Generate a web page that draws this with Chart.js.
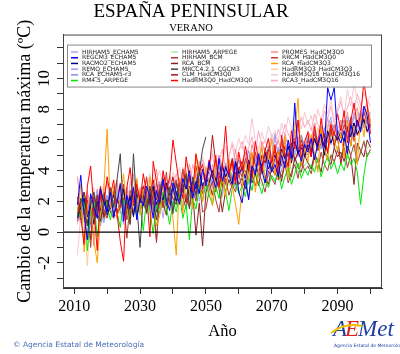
<!DOCTYPE html>
<html>
<head>
<meta charset="utf-8">
<script src="https://cdn.jsdelivr.net/npm/chart.js@4/dist/chart.umd.min.js"></script>
<style>
  html, body { margin: 0; padding: 0; background: #fff; }
</style>
</head>
<body>
<canvas id="myChart" width="400" height="354"></canvas>
<script>
// Years on the x axis
var years = [
  2011, 2012, 2013, 2014, 2015, 2016, 2017, 2018, 2019, 2020,
  2021, 2022, 2023, 2024, 2025, 2026, 2027, 2028, 2029, 2030,
  2031, 2032, 2033, 2034, 2035, 2036, 2037, 2038, 2039, 2040,
  2041, 2042, 2043, 2044, 2045, 2046, 2047, 2048, 2049, 2050,
  2051, 2052, 2053, 2054, 2055, 2056, 2057, 2058, 2059, 2060,
  2061, 2062, 2063, 2064, 2065, 2066, 2067, 2068, 2069, 2070,
  2071, 2072, 2073, 2074, 2075, 2076, 2077, 2078, 2079, 2080,
  2081, 2082, 2083, 2084, 2085, 2086, 2087, 2088, 2089, 2090,
  2091, 2092, 2093, 2094, 2095, 2096, 2097, 2098, 2099, 2100
];

// Tick positions and labels
var xTickValues = [2010, 2020, 2030, 2040, 2050, 2060, 2070, 2080, 2090, 2100];
var xTickLabels = [2010, 2030, 2050, 2070, 2090];
var yTickValues = [-3, -2, -1, 0, 1, 2, 3, 4, 5, 6, 7, 8, 9, 10, 11, 12];
var yTickLabels = [-2, 0, 2, 4, 6, 8, 10];

// Model names (legend order, column by column), colours and drawing layer (1 = on top)
var seriesNames = [
  'HIRHAM5_ECHAM5', 'REGCM3_ECHAM5', 'RACMO2_ECHAM5', 'REMO_ECHAM5', 'RCA_ECHAM5-r3', 'RM4.5_ARPEGE',
  'HIRHAM5_ARPEGE', 'HIRHAM_BCM', 'RCA_BCM', 'MRCC4.2.1_CGCM3', 'CLM_HadCM3Q0', 'HadRM3Q0_HadCM3Q0',
  'PROMES_HadCM3Q0', 'RRCM_HadCM3Q0', 'RCA_HadCM3Q3', 'HadRM3Q3_HadCM3Q3', 'HadRM3Q16_HadCM3Q16', 'RCA3_HadCM3Q16'
];
var seriesColors = [
  '#a8a8f2', '#0000ff', '#000080', '#9a9aee', '#8a8ae4', '#00e600',
  '#a6f0a6', '#b03a3a', '#8a2020', '#444444', '#b01515', '#ff0000',
  '#ff8a8a', '#cc3535', '#ffa000', '#ffcc94', '#f5c8ce', '#ffa4c4'
];
var seriesLayers = [3, 1, 2, 3, 3, 2, 3, 2, 2, 1, 2, 1, 3, 2, 1, 3, 3, 3];

// Change of maximum temperature (ºC), one value per year 2011-2100
var hirham5Echam5 = [
  1.2, 0.6, 2.1, 1.5, 0.3, 1.9, 2.4, 0.8, 1.3, 2.0,
  1.6, 0.9, 2.7, 1.4, 0.5, 2.2, 1.8, 3.0, 1.1, 2.3,
  2.0, 1.2, 2.8, 1.7, 3.1, 2.4, 0.9, 2.6, 3.3, 1.8,
  2.5, 3.0, 1.6, 3.4, 2.2, 2.9, 3.8, 2.0, 3.2, 2.7,
  3.6, 2.8, 4.1, 3.0, 2.4, 3.9, 4.4, 3.3, 2.9, 4.2,
  3.5, 4.6, 3.1, 4.0, 5.2, 3.7, 4.3, 5.0, 3.6, 4.8,
  4.4, 5.5, 3.9, 4.9, 5.8, 4.6, 5.1, 6.2, 4.5, 5.4,
  5.0, 6.0, 4.8, 5.7, 6.5, 5.2, 6.8, 7.5, 5.9, 6.4,
  6.9, 5.6, 7.2, 6.3, 7.8, 6.6, 7.0, 8.1, 6.8, 7.4
];
var regcm3Echam5 = [
  1.8, 3.7, 1.1, -0.5, 2.5, 1.6, 0.9, 2.8, 2.0, 1.3,
  2.6, 1.0, 1.9, 3.1, 0.7, 2.4, 1.5, 2.9, 0.8, 2.2,
  1.7, 3.0, 2.3, 0.9, 2.7, 1.9, 3.4, 2.1, 1.4, 3.2,
  2.6, 1.8, 3.5, 2.8, 4.0, 2.2, 3.3, 2.5, 4.1, 3.0,
  4.6, 3.6, 2.9, 4.8, 3.3, 4.2, 3.7, 3.1, 4.5, 2.6,
  1.9, 3.4, 2.1, 4.3, 3.8, 5.1, 4.0, 3.2, 4.7, 3.9,
  4.4, 3.6, 5.0, 4.2, 6.0, 4.8, 8.4, 5.3, 4.6, 5.7,
  5.2, 6.1, 4.7, 5.8, 6.4, 5.5, 9.4, 8.6, 9.4, 6.3,
  5.8, 6.6, 5.1, 7.0, 6.2, 7.3, 6.5, 8.2, 7.6, 5.8
];
var racmo2Echam5 = [
  0.9, 1.6, 2.2, 1.0, 1.7, 0.5, 2.0, 1.4, 2.6, 1.1,
  1.8, 2.4, 1.2, 2.0, 2.8, 1.5, 2.3, 1.0, 2.5, 1.9,
  2.7, 1.6, 2.2, 3.0, 1.8, 2.5, 2.1, 3.2, 2.4, 2.9,
  2.0, 3.1, 2.6, 3.6, 2.4, 3.3, 2.8, 3.9, 3.0, 3.5,
  3.2, 4.0, 3.4, 2.9, 4.3, 3.6, 4.1, 3.3, 4.6, 3.8,
  4.2, 3.5, 4.7, 4.0, 3.7, 4.9, 4.3, 5.2, 4.1, 4.6,
  5.0, 4.4, 5.4, 4.8, 5.6, 4.5, 5.9, 5.1, 5.5, 4.9,
  5.7, 5.2, 6.1, 5.5, 6.3, 5.0, 6.6, 5.8, 6.4, 6.0,
  6.5, 5.9, 6.9, 6.2, 7.1, 6.4, 6.8, 7.3, 6.6, 7.0
];
var remoEcham5 = [
  1.4, 0.7, 1.9, 2.3, 0.8, 1.5, 2.7, 1.2, 0.6, 1.8,
  2.2, 1.3, 0.9, 2.5, 1.7, 2.9, 1.1, 2.0, 2.6, 1.4,
  1.9, 2.8, 1.5, 2.3, 3.2, 2.0, 2.6, 1.7, 3.0, 2.4,
  3.3, 2.1, 2.8, 3.7, 2.5, 3.1, 2.2, 3.5, 2.9, 3.8,
  2.7, 3.4, 4.2, 3.0, 3.7, 4.5, 3.2, 3.9, 4.8, 3.6,
  4.1, 3.3, 4.4, 5.0, 3.8, 4.6, 5.5, 4.2, 5.1, 4.7,
  6.4, 4.8, 5.3, 6.1, 5.0, 5.8, 6.3, 5.4, 6.0, 5.6,
  6.2, 5.5, 6.7, 5.9, 6.9, 6.3, 5.8, 7.2, 6.5, 6.8,
  7.0, 6.4, 7.5, 6.9, 7.7, 6.8, 7.3, 8.0, 7.2, 7.6
];
var rcaEcham5r3 = [
  1.0, 2.0, 1.3, 0.5, 1.7, 2.2, 1.0, 0.4, 1.6, 2.4,
  1.5, 2.1, 1.2, 1.8, 2.6, 0.9, 2.0, 2.7, 1.6, 2.3,
  2.9, 1.8, 2.4, 1.4, 2.7, 3.3, 2.1, 2.5, 1.9, 3.0,
  2.3, 3.4, 2.7, 2.0, 3.6, 2.8, 3.2, 4.0, 2.6, 3.3,
  3.9, 3.1, 3.5, 4.3, 2.9, 3.8, 4.4, 3.4, 4.1, 4.7,
  3.9, 4.5, 5.3, 4.1, 4.8, 3.6, 5.0, 4.4, 5.6, 4.9,
  4.6, 5.5, 5.0, 6.0, 4.7, 5.7, 5.2, 4.9, 6.3, 5.5,
  6.1, 5.3, 6.6, 5.9, 5.4, 6.8, 6.2, 5.7, 7.0, 6.3,
  6.7, 7.3, 6.1, 7.5, 6.6, 7.1, 7.9, 6.8, 7.4, 7.8
];
var rm45Arpege = [
  1.5, 0.9, 2.3, -1.2, 1.4, 2.0, -0.3, 1.2, 2.5, 1.7,
  0.8, 1.9, 1.3, 0.3, 2.1, 1.5, 0.9, 2.4, 1.1, 1.8,
  0.1, 2.2, 1.4, -0.1, 1.9, 1.2, 2.6, 1.6, 0.5, 2.0,
  1.3, 2.5, 0.9, 1.8, -0.5, 2.2, 1.5, 2.9, 2.0, 3.2,
  2.4, 1.8, 3.0, 2.2, 3.5, 2.6, 1.4, 2.8, 3.3, 2.5,
  3.0, 2.3, 3.6, 2.7, 3.9, 3.2, 2.5, 3.4, 2.9, 3.7,
  3.3, 4.0, 2.8, 3.6, 4.2, 3.1, 3.8, 4.5, 3.5, 4.1,
  3.7, 4.4, 3.9, 4.8, 3.6, 4.3, 5.0, 4.1, 4.6, 3.8,
  4.5, 4.0, 5.1, 4.4, 4.8, 3.9, 1.8, 3.7, 5.1, 5.2
];
var hirham5Arpege = [
  1.1, 1.8, 0.6, 1.4, 2.2, 0.9, 1.6, 2.0, 0.7, 1.3,
  1.9, 1.0, 2.3, 1.5, 0.8, 2.0, 1.7, 1.2, 2.5, 1.4,
  1.8, 2.4, 1.1, 2.0, 2.7, 1.5, 2.2, 1.3, 2.8, 2.1,
  1.6, 2.6, 2.0, 3.0, 1.8, 2.7, 2.3, 3.3, 2.5, 2.1,
  3.1, 2.6, 3.5, 2.8, 2.2, 3.4, 3.0, 3.8, 2.7, 3.3,
  3.6, 2.9, 3.9, 3.3, 4.2, 3.5, 3.0, 4.1, 3.7, 4.4,
  3.9, 4.5, 3.6, 4.2, 4.8, 4.0, 4.6, 3.8, 5.0, 4.3,
  4.7, 4.1, 5.2, 4.5, 4.9, 5.4, 4.6, 5.1, 4.4, 5.6,
  5.0, 5.5, 4.8, 5.8, 5.2, 5.6, 5.0, 6.0, 5.4, 5.7
];
var hirhamBcm = [
  1.6, 0.8, 1.3, 2.1, -1.0, 1.7, 1.0, 2.3, 1.4, 0.9,
  1.8, 2.5, 1.1, 1.6, 2.2, -0.4, 1.9, 1.3, 2.6, 1.5,
  2.0, 1.2, 2.7, 1.7, -0.6, 2.3, 1.6, 2.9, 2.1, 1.4,
  2.5, 1.9, 3.1, 2.2, 1.6, 2.8, 2.0, 3.4, 1.3, 1.5,
  2.7, 3.3, 2.1, 1.3, 2.9, 3.5, 2.4, 3.1, 2.6, 3.8,
  2.9, 3.4, 2.2, 3.7, 3.0, 3.9, 3.3, 2.6, 4.0, 3.5,
  3.1, 4.2, 3.6, 4.5, 3.2, 3.9, 4.4, 3.5, 4.7, 4.0,
  4.3, 3.8, 4.9, 4.1, 5.2, 4.4, 4.0, 5.0, 4.6, 5.3,
  4.8, 5.5, 4.2, 5.0, 5.7, 4.5, 5.2, 5.9, 4.9, 5.4
];
var rcaBcm = [
  1.2, 2.0, 1.5, 0.6, 1.9, 1.1, 2.4, 0.8, 1.7, 2.1,
  1.3, 0.9, 2.2, 1.6, 2.8, 1.2, 1.8, 2.4, 1.0, 2.0,
  2.4, 1.5, 2.0, 2.9, 1.3, 2.6, 1.9, 1.1, 2.7, 2.2,
  1.8, 2.8, 2.3, 1.5, 3.0, 2.5, -0.2, 1.9, -0.9, 2.6,
  3.2, 2.4, 3.6, 2.8, 1.3, 2.7, 3.4, 2.9, 3.9, 3.1,
  3.5, 2.8, 4.1, 3.2, 3.8, 3.0, 4.3, 3.6, 3.1, 4.2,
  3.7, 4.4, 3.3, 4.6, 4.0, 3.6, 4.9, 4.2, 3.9, 5.0,
  4.5, 4.1, 5.1, 4.6, 3.9, 5.3, 4.8, 4.4, 5.5, 4.9,
  5.2, 4.6, 5.6, 5.0, 3.1, 5.8, 5.3, 4.9, 6.0, 5.5
];
var mrccCgcm3 = [
  1.0, 2.2, 1.5, 0.4, 1.8, 2.6, 1.2, 0.7, 2.0, 1.4,
  2.9, 1.6, 3.4, 5.1, 1.1, 2.2, 0.5, 5.1, 1.8, -1.0,
  2.4, 1.3, 3.0, 2.0, 0.8, 2.6, 3.5, 1.7, 2.9, 1.2,
  3.2, 2.1, 2.7, 3.8, 1.5, 3.6, 2.4, 3.9, 5.4, 6.2,
  null, null, null, null, null, null, null, null, null, null,
  null, null, null, null, null, null, null, null, null, null,
  null, null, null, null, null, null, null, null, null, null,
  null, null, null, null, null, null, null, null, null, null,
  null, null, null, null, null, null, null, null, null, null
];
var clmHadcm3q0 = [
  1.9, 1.1, 2.6, 1.5, -0.5, 2.3, 1.6, 2.9, 1.0, 2.1,
  1.5, 2.7, 1.2, 2.0, 3.1, 1.6, 2.4, 1.1, 2.8, 2.2,
  3.0, 1.9, 2.5, 3.4, 2.1, 2.8, 1.6, 3.2, 2.6, 3.6,
  2.4, 3.3, 2.9, 1.9, 3.7, 2.7, 3.1, 4.2, 2.8, 3.5,
  4.0, 6.3, 4.5, 3.7, 3.0, 4.3, 3.6, 4.8, 3.4, 4.1,
  4.6, 3.9, 4.2, 5.1, 4.4, 3.8, 5.0, 4.5, 5.4, 4.0,
  4.8, 5.3, 4.3, 5.6, 4.9, 5.8, 4.6, 5.2, 6.0, 5.0,
  5.5, 4.9, 6.1, 5.3, 5.8, 6.4, 5.1, 6.6, 5.7, 6.2,
  4.4, 6.0, 6.8, 5.6, 7.1, 6.3, 6.7, 7.4, 6.5, 7.0
];
var hadrm3q0Hadcm3q0 = [
  2.3, 1.0, -0.8, 3.0, 4.3, 1.5, -1.2, 2.7, 1.8, 3.6,
  2.4, 3.4, 1.2, -0.6, -1.9, 2.9, 4.2, 1.7, 3.1, 2.0,
  3.8, 2.5, -0.3, 4.6, 3.3, 1.8, 4.0, 2.8, 3.5, 6.0,
  4.5, 3.0, 2.2, 4.9, 3.6, 2.6, 5.1, 3.9, 4.4, 3.2,
  4.7, 3.5, 5.0, 2.9, 4.2, 6.9, 3.8, 4.6, 3.1, 5.2,
  4.0, 5.6, 4.4, 3.6, 5.9, 4.7, 3.9, 5.3, 6.1, 4.5,
  5.7, 3.4, 6.3, 5.0, 4.3, 6.6, 5.4, 7.3, 4.8, 5.9,
  6.5, 4.9, 6.9, 5.6, 7.4, 6.0, 5.2, 7.0, 6.3, 7.7,
  6.6, 7.9, 5.8, 7.2, 8.4, 6.9, 7.6, 9.8, 8.3, 6.4
];
var promesHadcm3q0 = [
  3.6, 1.4, 0.8, 2.5, 1.9, -0.9, 2.8, 1.6, 2.2, 3.3,
  1.7, 2.6, 3.4, 1.2, 2.9, 0.9, 2.3, 3.8, 1.5, 2.7,
  2.1, 3.5, 1.6, 2.8, 4.1, 2.3, 3.0, 1.9, 3.7, 2.6,
  3.3, 2.0, 3.9, 2.9, 4.4, 3.1, 2.5, 4.6, 3.4, 3.9,
  3.0, 4.4, 3.6, 5.0, 4.1, 3.4, 4.8, 4.0, 5.4, 3.8,
  4.6, 5.2, 4.2, 5.7, 4.9, 4.4, 5.9, 5.1, 4.6, 6.1,
  5.3, 6.0, 4.9, 6.4, 5.6, 5.1, 6.7, 5.8, 6.3, 5.5,
  6.6, 6.0, 7.1, 5.7, 6.8, 6.2, 7.4, 6.5, 7.0, 6.1,
  7.3, 6.7, 7.8, 6.4, 7.5, 8.1, 6.9, 7.7, 8.4, 7.2
];
var rrcmHadcm3q0 = [
  0.7, 1.8, 2.6, 1.2, 0.5, 2.1, 1.4, 3.0, 0.9, 1.7,
  2.5, 1.1, 1.9, 3.2, 1.6, 0.8, 2.7, 2.0, 3.4, 1.3,
  2.3, 3.6, 1.7, 2.6, -0.7, 3.1, 2.2, 3.9, 1.8, 2.9,
  3.4, 2.4, 4.1, 2.8, 3.5, 1.9, 4.3, 3.0, 2.5, 3.8,
  3.2, 4.0, 2.6, 3.7, 4.5, 3.1, 3.9, 4.7, 3.3, 4.2,
  3.6, 4.8, 4.1, 3.5, 5.2, 4.4, 3.8, 5.5, 4.6, 4.0,
  5.4, 4.5, 5.9, 4.8, 4.2, 5.6, 6.1, 5.0, 5.7, 4.9,
  6.0, 5.3, 6.4, 5.6, 6.7, 5.1, 6.2, 6.9, 5.5, 6.6,
  6.1, 7.0, 6.5, 7.4, 5.9, 7.2, 6.6, 7.8, 7.1, 6.8
];
var rcaHadcm3q3 = [
  1.3, 3.1, -1.3, 1.7, 2.4, -0.6, -2.0, 1.0, 2.8, 6.7,
  1.6, 3.0, 0.9, 2.2, 3.8, 1.4, 0.5, 2.6, 3.5, 1.1,
  2.8, 1.3, 3.6, 2.1, 0.4, 1.1, 3.3, 1.9, 2.9, 0.9,
  -1.5, 3.5, 1.2, 4.0, 2.6, 1.5, 5.0, 3.3, 2.0, 4.2,
  3.1, 1.7, 4.4, 2.8, 3.6, 2.3, 4.7, 3.0, 1.8, 0.5,
  2.9, 4.5, 3.4, 5.2, 2.6, 4.0, 5.6, 3.2, 4.8, 6.0,
  3.7, 5.3, 4.4, 6.2, 3.5, 5.0, 6.6, 8.7, 4.3, 5.7,
  4.6, 6.3, 5.1, 3.9, 6.8, 5.4, 4.7, 7.1, 6.0, 5.3,
  6.5, 4.8, 7.3, 5.6, 6.9, 4.4, 7.6, 6.2, 8.0, 7.0
];
var hadrm3q3Hadcm3q3 = [
  0.9, 2.0, 1.4, -2.2, 1.8, 2.5, 1.1, 0.6, 2.2, 1.5,
  2.1, 1.0, 2.8, 1.6, 2.3, 0.8, 1.9, 2.9, 1.4, 2.5,
  1.6, 2.7, 2.0, 3.1, 1.4, 2.4, 3.4, 1.9, 2.8, 2.2,
  3.0, 2.3, 3.6, 2.6, 1.8, 3.2, 2.7, 4.0, 3.1, 2.5,
  3.5, 2.9, 4.0, 3.3, 4.6, 3.0, 3.8, 4.3, 3.5, 4.8,
  4.1, 3.6, 5.0, 4.4, 3.9, 5.3, 4.5, 4.0, 5.6, 4.7,
  5.1, 4.4, 5.8, 4.9, 5.4, 6.1, 4.8, 5.6, 6.3, 5.2,
  5.9, 6.4, 5.5, 6.8, 6.0, 5.7, 7.0, 6.2, 6.6, 5.9,
  6.8, 7.2, 6.3, 7.5, 6.9, 7.8, 6.6, 7.3, 8.0, 7.1
];
var hadrm3q16Hadcm3q16 = [
  -1.5, 1.2, 2.6, 1.8, 0.7, 2.9, 1.5, 2.2, 3.2, 1.4,
  2.7, 1.9, 3.3, 2.4, 1.2, 3.0, 2.1, 3.6, 2.8, 1.7,
  3.1, 2.5, 3.8, 2.2, 3.4, 4.0, 2.9, 3.6, 2.4, 3.9,
  3.3, 4.2, 3.0, 4.5, 3.7, 2.8, 4.3, 3.8, 4.9, 4.1,
  4.6, 5.3, 4.2, 5.0, 4.4, 5.6, 4.8, 5.9, 5.2, 6.1,
  5.4, 6.3, 5.7, 7.4, 6.0, 5.3, 6.5, 5.8, 6.9, 6.2,
  6.6, 5.9, 7.1, 6.3, 7.5, 6.8, 6.1, 7.3, 6.7, 7.8,
  7.0, 7.6, 6.5, 8.0, 7.3, 8.3, 7.7, 8.6, 7.2, 8.1,
  8.8, 7.5, 9.3, 8.2, 9.6, 8.5, 7.9, 9.1, 8.4, 8.9
];
var rca3Hadcm3q16 = [
  0.5, 1.9, 1.2, 2.7, 0.8, 1.6, 2.3, 1.0, 2.9, 1.8,
  2.4, 1.5, 3.0, 2.0, 2.6, 1.3, 3.3, 2.2, 1.7, 2.9,
  2.3, 3.5, 2.8, 1.9, 3.2, 2.6, 3.9, 2.4, 3.6, 3.0,
  3.8, 2.9, 4.2, 3.4, 2.7, 4.4, 3.6, 3.1, 4.7, 3.9,
  4.3, 5.1, 3.8, 4.6, 5.4, 4.1, 5.0, 5.7, 4.5, 5.3,
  5.9, 4.8, 5.5, 6.2, 5.1, 6.6, 5.6, 6.0, 5.4, 6.4,
  5.8, 6.7, 6.1, 7.0, 6.4, 5.9, 7.2, 6.5, 7.5, 6.8,
  7.3, 6.6, 7.7, 7.0, 6.7, 7.9, 7.4, 8.2, 7.1, 7.8,
  8.5, 7.6, 8.1, 8.8, 7.9, 9.0, 8.3, 7.7, 8.6, 8.2
];

var seriesValues = [
  hirham5Echam5, regcm3Echam5, racmo2Echam5, remoEcham5, rcaEcham5r3, rm45Arpege,
  hirham5Arpege, hirhamBcm, rcaBcm, mrccCgcm3, clmHadcm3q0, hadrm3q0Hadcm3q0,
  promesHadcm3q0, rrcmHadcm3q0, rcaHadcm3q3, hadrm3q3Hadcm3q3, hadrm3q16Hadcm3q16, rca3Hadcm3q16
];

var serif = "'Liberation Serif', 'DejaVu Serif', serif";
Chart.defaults.font.family = serif;
Chart.defaults.color = '#000';

// Box round the plot, zero line, legend box, footer and logo
var decorPlugin = {
    id: 'decor',
    afterDatasetsDraw: function(chart) {
        var ctx = chart.ctx;
        var a = chart.chartArea;
        var y0 = chart.scales.y.getPixelForValue(0);
        ctx.save();
        ctx.strokeStyle = '#000';
        ctx.lineWidth = 1.2;
        ctx.beginPath();
        ctx.moveTo(a.left, y0);
        ctx.lineTo(a.right, y0);
        ctx.stroke();

        ctx.strokeStyle = '#444';
        ctx.lineWidth = 1;
        ctx.strokeRect(a.left + 0.5, a.top + 0.5, a.right - a.left - 1, a.bottom - a.top - 1);

        // legend, three columns of six
        var lx = a.left + 4, ly = a.top + 10, lw = 304, lh = 42;
        ctx.fillStyle = '#fff';
        ctx.fillRect(lx, ly, lw, lh);
        ctx.strokeStyle = '#888';
        ctx.strokeRect(lx + 0.5, ly + 0.5, lw, lh);
        ctx.font = '6px "DejaVu Sans"';
        ctx.textBaseline = 'middle';
        ctx.textAlign = 'left';
        chart.data.datasets.forEach(function(ds, i) {
            var col = Math.floor(i / 6), row = i % 6;
            var x = lx + 4 + col * 100, y = ly + 7.5 + row * 5.7;
            ctx.strokeStyle = ds.borderColor;
            ctx.lineWidth = 1.5;
            ctx.beginPath();
            ctx.moveTo(x, y);
            ctx.lineTo(x + 7, y);
            ctx.stroke();
            ctx.fillStyle = '#222';
            ctx.fillText(ds.label, x + 11, y);
        });
        ctx.restore();
    },
    afterDraw: function(chart) {
        var ctx = chart.ctx;
        ctx.save();
        ctx.textBaseline = 'middle';
        ctx.textAlign = 'left';
        ctx.font = '7.5px "DejaVu Sans"';
        ctx.fillStyle = '#4b6fb5';
        ctx.fillText('© Agencia Estatal de Meteorología', 13, 345);

        // AEMet logo
        ctx.textBaseline = 'alphabetic';
        ctx.font = 'italic 23px ' + serif;
        var x = 333, y = 336;
        ctx.fillStyle = '#1f3f9f';
        ctx.fillText('A', x, y);
        x += ctx.measureText('A').width - 2;
        ctx.fillStyle = '#e02020';
        ctx.fillText('E', x, y);
        x += ctx.measureText('E').width - 1;
        ctx.fillStyle = '#1f3f9f';
        ctx.fillText('Met', x, y);
        ctx.strokeStyle = '#f2c200';
        ctx.lineWidth = 2;
        ctx.beginPath();
        ctx.moveTo(331, 333);
        ctx.quadraticCurveTo(345, 322, 362, 326);
        ctx.stroke();
        ctx.font = '4.5px "DejaVu Sans"';
        ctx.fillStyle = '#1f3f9f';
        ctx.fillText('Agencia Estatal de Meteorología', 334, 347);
        ctx.restore();
    }
};

var ctx1 = document.getElementById('myChart').getContext('2d');
var tempChart = new Chart(ctx1, {
    type: 'line',
    data: {
        labels: years,
        datasets: seriesNames.map(function(name, i) {
            return {
                label: name,
                data: seriesValues[i],
                borderColor: seriesColors[i],
                backgroundColor: seriesColors[i],
                borderWidth: 1,
                pointRadius: 0,
                tension: 0,
                spanGaps: false,
                order: seriesLayers[i]
            };
        })
    },
    options: {
        responsive: false,
        animation: false,
        devicePixelRatio: 1,
        layout: { padding: { left: 0, right: 18, top: 0, bottom: 0 } },
        plugins: {
            legend: { display: false },
            tooltip: { enabled: false },
            title: {
                display: true,
                text: 'ESPAÑA PENINSULAR',
                color: '#000',
                font: { size: 19, weight: 'normal', lineHeight: 1 },
                padding: { top: 3, bottom: 0 }
            },
            subtitle: {
                display: true,
                text: 'VERANO',
                color: '#000',
                font: { size: 10.5, weight: 'normal', lineHeight: 1.1 },
                padding: { top: 0, bottom: 1 }
            }
        },
        scales: {
            x: {
                type: 'linear',
                min: 2006.6,
                max: 2103.5,
                afterBuildTicks: function(scale) {
                    scale.ticks = xTickValues.map(function(v) { return { value: v }; });
                },
                afterFit: function(scale) { scale.height = 66; },
                ticks: {
                    autoSkip: false,
                    maxRotation: 0,
                    minRotation: 0,
                    padding: 3,
                    font: { size: 16 },
                    color: '#000',
                    callback: function(value) {
                        return xTickLabels.indexOf(value) >= 0 ? String(value) : '';
                    }
                },
                grid: { drawOnChartArea: false, tickLength: 6, tickColor: '#333' },
                border: { color: '#333' },
                title: {
                    display: true,
                    text: 'Año',
                    font: { size: 16.5 },
                    color: '#000',
                    padding: { top: 0, bottom: 12 }
                }
            },
            y: {
                min: -3.64,
                max: 12.86,
                afterBuildTicks: function(scale) {
                    scale.ticks = yTickValues.map(function(v) { return { value: v }; });
                },
                afterFit: function(scale) { scale.width = 63; },
                ticks: {
                    autoSkip: false,
                    minRotation: 90,
                    maxRotation: 90,
                    crossAlign: 'center',
                    padding: 4,
                    font: { size: 17 },
                    color: '#000',
                    callback: function(value) {
                        return yTickLabels.indexOf(value) >= 0 ? String(value) : '';
                    }
                },
                grid: { drawOnChartArea: false, tickLength: 6, tickColor: '#333' },
                border: { color: '#333' },
                title: {
                    display: true,
                    text: 'Cambio de la temperatura máxima (ºC)',
                    font: { size: 18 },
                    color: '#000',
                    padding: { top: 14, bottom: 0 }
                }
            }
        }
    },
    plugins: [decorPlugin]
});
</script>
</body>
</html>
